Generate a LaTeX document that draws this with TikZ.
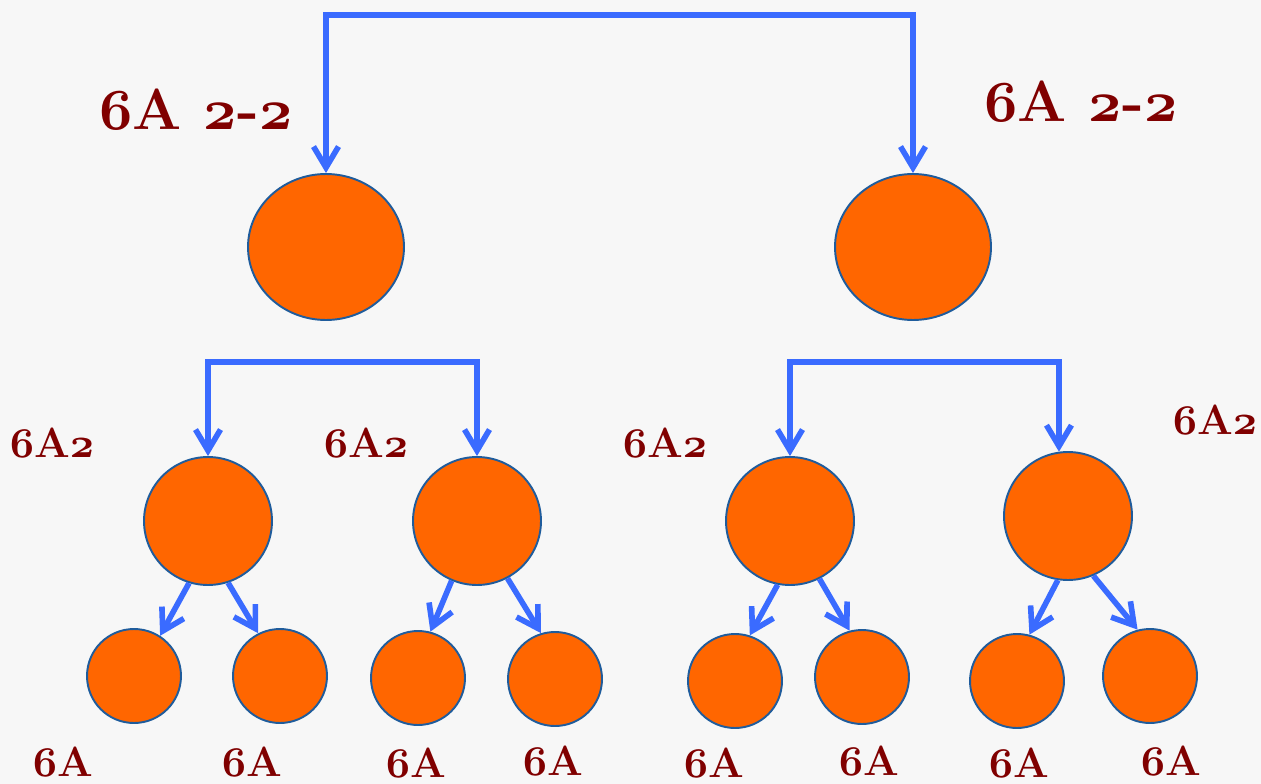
\documentclass[tikz,border=0pt]{standalone}
\usetikzlibrary{arrows.meta,shapes.geometric}
\definecolor{dotfill}{HTML}{FF6600}
\definecolor{dotline}{HTML}{1F5C9C}
\definecolor{linkblue}{HTML}{3A6BFF}
\definecolor{tagred}{HTML}{800000}
\tikzset{
  blob/.style={draw=dotline,fill=dotfill,line width=1.1pt,inner sep=0pt},
  link/.style={draw=linkblue,line width=3.2pt,
    >={Straight Barb[length=0.42cm,width=0.5cm]},->},
  tag/.style={text=tagred,anchor=base,inner sep=0pt,
    font=\bfseries\fontsize{24}{26}\selectfont},
  bigtag/.style={tag,font=\bfseries\fontsize{33}{38}\selectfont},
}
% bold old-style digits, scalable
\DeclareFontFamily{OML}{osb}{\skewchar\font=127}
\DeclareFontShape{OML}{osb}{b}{it}{<->cmmib10}{}
\newcommand{\os}[1]{{\fontencoding{OML}\fontfamily{osb}\fontseries{b}\fontshape{it}\selectfont #1}}
\begin{document}
\begin{tikzpicture}[x=0.02cm,y=-0.02cm]
\fill[black!3] (0,0) rectangle (1261,784);
\useasboundingbox (0,0) rectangle (1261,784);

% top level
\node[blob,ellipse,minimum width=3.12cm,minimum height=2.92cm] (b0) at (326,247) {};
\node[blob,ellipse,minimum width=3.12cm,minimum height=2.92cm] (b1) at (913,247) {};
\coordinate (t0) at (620,15);
\draw[link,<->] (b0.north) |- (t0) -| (b1.north);

% middle level
\node[blob,circle,minimum size=2.56cm] (m0) at (208,521) {};
\node[blob,circle,minimum size=2.56cm] (m1) at (477,521) {};
\node[blob,circle,minimum size=2.56cm] (m2) at (790,521) {};
\node[blob,circle,minimum size=2.56cm] (m3) at (1068,516) {};
\coordinate (c0) at (340,362);
\coordinate (c1) at (923,362);
\draw[link,<->] (m0.north) |- (c0) -| (m1.north);
\draw[link,<->] (m2.north) |- (c1) -| (m3.98);

% bottom level
\node[blob,circle,minimum size=1.88cm] (s0) at (134,676) {};
\node[blob,circle,minimum size=1.88cm] (s1) at (280,676) {};
\node[blob,circle,minimum size=1.88cm] (s2) at (418,678) {};
\node[blob,circle,minimum size=1.88cm] (s3) at (555,679) {};
\node[blob,circle,minimum size=1.88cm] (s4) at (735,681) {};
\node[blob,circle,minimum size=1.88cm] (s5) at (862,677) {};
\node[blob,circle,minimum size=1.88cm] (s6) at (1017,681) {};
\node[blob,circle,minimum size=1.88cm] (s7) at (1150,676) {};

\draw[link] (m0.-107) -- (s0.57);
\draw[link] (m0.-72) -- (s1.117);
\draw[link] (m1.-113) -- (s2.75);
\draw[link] (m1.-62) -- (s3.107);
\draw[link] (m2.-101) -- (s4.72);
\draw[link] (m2.-63) -- (s5.105);
\draw[link] (m3.-99) -- (s6.75);
\draw[link] (m3.-67) -- (s7.105);

% labels
\node[bigtag] (l0) at (196,130) {\os{6}A \os{2}-\os{2}};
\node[bigtag] (l1) at (1081,122) {\os{6}A \os{2}-\os{2}};
\node[tag] (l2) at (52,457) {\os{6}A\os{2}};
\node[tag] (l3) at (366,457) {\os{6}A\os{2}};
\node[tag] (l4) at (665,457) {\os{6}A\os{2}};
\node[tag] (l5) at (1215,434) {\os{6}A\os{2}};
\node[tag] (l6) at (63,776) {\os{6}A};
\node[tag] (l7) at (252,776) {\os{6}A};
\node[tag] (l8) at (416,777) {\os{6}A};
\node[tag] (l9) at (553,775) {\os{6}A};
\node[tag] (l10) at (714,777) {\os{6}A};
\node[tag] (l11) at (869,775) {\os{6}A};
\node[tag] (l12) at (1019,777) {\os{6}A};
\node[tag] (l13) at (1171,775) {\os{6}A};
\end{tikzpicture}
\end{document}
